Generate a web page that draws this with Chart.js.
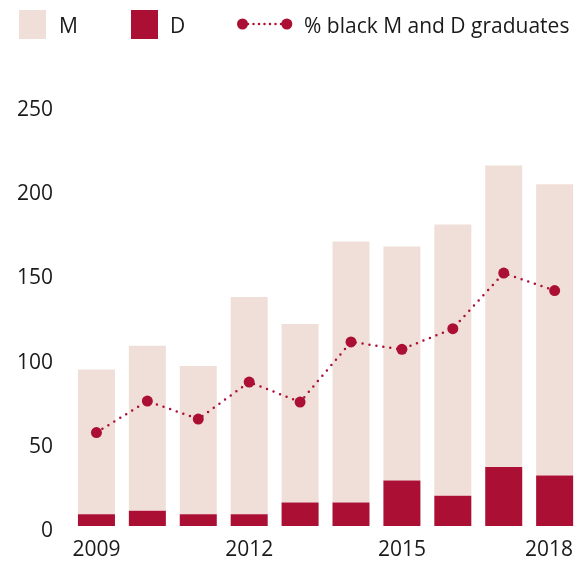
<!DOCTYPE html>
<html>
<head>
<meta charset="utf-8">
<script src="https://cdn.jsdelivr.net/npm/chart.js@4/dist/chart.umd.min.js"></script>
<style>
  html, body { margin: 0; padding: 0; background: #ffffff; overflow: hidden; }
  #wrap { width: 575px; height: 564px; }
</style>
</head>
<body>
<div id="wrap"><canvas id="chart" width="575" height="564"></canvas></div>
<script>
// Graduates per year: master's (M) and doctoral (D), stacked
const years = [2009, 2010, 2011, 2012, 2013, 2014, 2015, 2016, 2017, 2018];
const mastersM = [86, 98, 88, 129, 106, 155, 139, 161, 179, 173];
const doctoralD = [7, 9, 7, 7, 14, 14, 27, 18, 35, 30];
// Share of black M and D graduates (%), on its own hidden axis
const pctBlack = [5.55, 7.42, 6.35, 8.55, 7.36, 10.93, 10.49, 11.72, 15.02, 13.98];
const xTickYears = [2009, 2012, 2015, 2018];
const yTicks = [0, 50, 100, 150, 200, 250];

const DARK = '#ab0f33';
const LIGHT = '#f0dfd9';
const FONT = "'Open Sans', 'Noto Sans', sans-serif";
const TEXT = '#1a1a1a';

const toPoints = vals => years.map((y, i) => ({ x: y, y: vals[i] }));

// Legend drawn across the top: two swatches and a dotted-line sample
const topLegend = {
  id: 'topLegend',
  afterDraw(chart) {
    const ctx = chart.ctx;
    const ds = chart.data.datasets;
    ctx.save();
    ctx.font = '21px ' + FONT;
    ctx.textBaseline = 'middle';
    ctx.textAlign = 'left';

    // M swatch
    ctx.fillStyle = LIGHT;
    ctx.fillRect(19, 10, 27, 29);
    ctx.fillStyle = TEXT;
    ctx.fillText(ds[1].label, 59, 27);

    // D swatch
    ctx.fillStyle = DARK;
    ctx.fillRect(131, 10, 27, 29);
    ctx.fillStyle = TEXT;
    ctx.fillText(ds[0].label, 170, 27);

    // line sample
    ctx.strokeStyle = DARK;
    ctx.lineWidth = 2.5;
    ctx.lineCap = 'round';
    ctx.setLineDash([0, 5.5]);
    ctx.beginPath();
    ctx.moveTo(248, 24);
    ctx.lineTo(282, 24);
    ctx.stroke();
    ctx.setLineDash([]);
    ctx.fillStyle = DARK;
    [242.5, 286.8].forEach(cx => {
      ctx.beginPath();
      ctx.arc(cx, 24, 5.5, 0, Math.PI * 2);
      ctx.fill();
    });
    ctx.fillStyle = TEXT;
    ctx.fillText(ds[2].label, 304, 27);
    ctx.restore();
  }
};

// Year labels under the x axis, kept inside the canvas at the right edge
const yearLabels = {
  id: 'yearLabels',
  afterDraw(chart) {
    const ctx = chart.ctx;
    const xs = chart.scales.x;
    const y = chart.chartArea.bottom + 24;
    ctx.save();
    ctx.font = '21px ' + FONT;
    ctx.fillStyle = TEXT;
    ctx.textAlign = 'center';
    ctx.textBaseline = 'middle';
    xTickYears.forEach(yr => {
      const label = String(yr);
      const half = ctx.measureText(label).width / 2;
      const px = Math.min(xs.getPixelForValue(yr), chart.width - 2 - half);
      ctx.fillText(label, px, y);
    });
    ctx.restore();
  }
};

new Chart(document.getElementById('chart'), {
  data: {
    datasets: [
      {
        type: 'bar',
        label: 'D',
        data: toPoints(doctoralD),
        backgroundColor: DARK,
        barPercentage: 0.727,
        categoryPercentage: 1,
        yAxisID: 'y',
        order: 2
      },
      {
        type: 'bar',
        label: 'M',
        data: toPoints(mastersM),
        backgroundColor: LIGHT,
        barPercentage: 0.727,
        categoryPercentage: 1,
        yAxisID: 'y',
        order: 2
      },
      {
        type: 'line',
        label: '% black M and D graduates',
        data: toPoints(pctBlack),
        borderColor: DARK,
        backgroundColor: DARK,
        borderWidth: 2.5,
        borderDash: [0, 7],
        borderCapStyle: 'round',
        pointRadius: 5.5,
        pointHoverRadius: 5.5,
        pointBorderWidth: 0,
        fill: false,
        tension: 0,
        yAxisID: 'y1',
        order: 1
      }
    ]
  },
  options: {
    responsive: false,
    devicePixelRatio: 1,
    animation: false,
    layout: { autoPadding: false, padding: { top: 105, right: 0, bottom: 0, left: 0 } },
    plugins: {
      legend: { display: false },
      tooltip: { enabled: false }
    },
    scales: {
      x: {
        type: 'linear',
        stacked: true,
        offset: false,
        min: 2008.5,
        max: 2018.4,
        grid: { display: false, drawTicks: false, offset: false },
        border: { display: false },
        afterBuildTicks: s => { s.ticks = xTickYears.map(v => ({ value: v })); },
        afterFit: s => { s.height = 38; s.paddingLeft = 0; s.paddingRight = 0; },
        ticks: { display: false }
      },
      y: {
        stacked: true,
        min: 0,
        max: 250,
        grid: { display: false, drawTicks: false },
        border: { display: false },
        afterBuildTicks: s => { s.ticks = yTicks.map(v => ({ value: v })); },
        afterFit: s => { s.width = 71; },
        ticks: {
          color: TEXT,
          font: { family: FONT, size: 21 },
          padding: 18,
          labelOffset: 5,
          callback: v => String(v)
        }
      },
      y1: {
        display: false,
        min: 0,
        max: 25
      }
    }
  },
  plugins: [topLegend, yearLabels]
});
</script>
</body>
</html>
